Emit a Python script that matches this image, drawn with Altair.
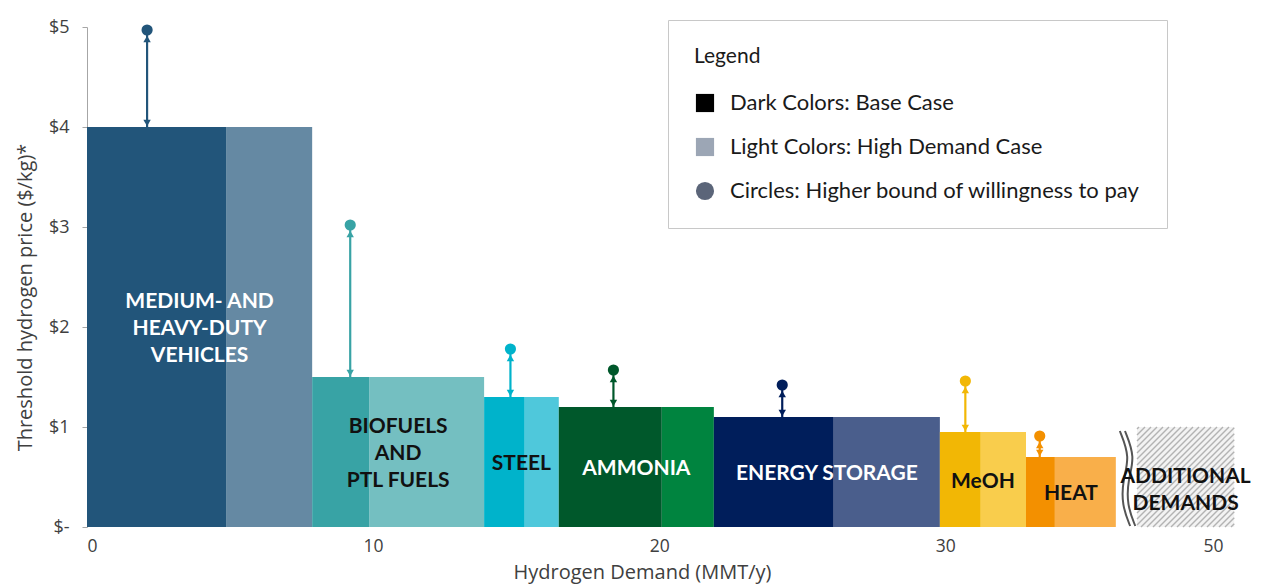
import altair as alt
import pandas as pd

# ---------------- data ----------------
sectors = ["Medium- and heavy-duty vehicles", "Biofuels and PTL fuels", "Steel",
           "Ammonia", "Energy storage", "MeOH", "Heat"]
bar_labels = ["MEDIUM- AND\nHEAVY-DUTY\nVEHICLES", "BIOFUELS\nAND\nPTL FUELS", "STEEL",
              "AMMONIA", "ENERGY STORAGE", "MeOH", "HEAT"]
label_colors = ["#ffffff", "#111111", "#111111", "#ffffff", "#ffffff", "#111111", "#111111"]
base_demand = [4.86, 1.99, 1.42, 3.60, 4.19, 1.43, 1.01]      # MMT/y, base case
high_extra = [3.01, 4.02, 1.19, 1.82, 3.71, 1.58, 2.13]       # MMT/y, extra in high demand case
threshold_price = [4.0, 1.5, 1.3, 1.2, 1.1, 0.95, 0.7]        # $/kg
upper_price = [4.97, 3.02, 1.78, 1.57, 1.42, 1.46, 0.91]      # $/kg, higher bound
upper_x = [2.1, 9.2, 14.8, 18.4, 24.3, 30.7, 33.3]            # MMT/y position of the bound marker
dark_colors = ["#22557A", "#38A3A5", "#00B3CB", "#00582B", "#001E5B", "#F2B705", "#F39000"]
light_colors = ["#6589A3", "#74BFC1", "#4FC8DB", "#00843F", "#4A5E8C", "#F9CD4C", "#F9AF4A"]

additional_label = "ADDITIONAL\nDEMANDS"
additional_start = 36.7
additional_end = 40.1
additional_price = 1.0

break_x = 36.1
break_wave_y = [0.96, 0.70, 0.47, 0.22, 0.01]
break_wave_dx = [0.0, 0.36, 0.10, 0.07, 0.36]
break_gap = 0.18

x_tick_values = [0, 10, 20, 30, 39.36]
x_tick_labels = ["0", "10", "20", "30", "50"]
y_tick_values = [0, 1, 2, 3, 4, 5]
y_tick_labels = ["$-", "$1", "$2", "$3", "$4", "$5"]

legend_labels = ["Dark Colors: Base Case", "Light Colors: High Demand Case",
                 "Circles: Higher bound of willingness to pay"]
legend_colors = ["#000000", "#9CA6B5", "#5B6579"]
legend_shapes = ["square", "square", "circle"]

# ---------------- layout ----------------
X_MAX = 40.3
Y_MAX = 5.0
W = 1153
H = 500
KX = W / X_MAX
KY = H / Y_MAX
FONT = "Lato"
AXFONT = "Open Sans"
LINE_H = 27
XTITLE = "Hydrogen Demand (MMT/y)"
YTITLE = "Threshold hydrogen price ($/kg)*"

# ---------------- tables ----------------
rows, labels, arrows = [], [], []
cum = 0.0
for i, s in enumerate(sectors):
    d0, d1 = cum, cum + base_demand[i]
    l1 = d1 + high_extra[i]
    rows.append(dict(sector=s, case="Base", x0=d0, x1=d1, y0=0, price=threshold_price[i], color=dark_colors[i]))
    rows.append(dict(sector=s, case="High", x0=d1, x1=l1, y0=0, price=threshold_price[i], color=light_colors[i]))
    labels.append(dict(text=bar_labels[i], xm=(d0 + l1) / 2, price=threshold_price[i], tcolor=label_colors[i]))
    arrows.append(dict(sector=s, ux=upper_x[i], price=threshold_price[i], upper=upper_price[i], color=dark_colors[i]))
    cum = l1
labels.append(dict(text=additional_label, xm=(additional_start + additional_end) / 2,
                   price=additional_price * 0.78, tcolor="#111111"))
lab = pd.DataFrame(labels)
# centre a multi-line label block vertically on half the bar height
lab["ym"] = lab["price"] / 2 + (lab["text"].str.count("\n") * LINE_H / 2) / KY
bars = pd.DataFrame(rows)
arr = pd.DataFrame(arrows)
add = pd.DataFrame([dict(x0=additional_start, x1=additional_end, y0=0, price=additional_price)])

wave = []
for k, off in enumerate([0.0, break_gap]):
    for j, (yy, dx) in enumerate(zip(break_wave_y, break_wave_dx)):
        wave.append(dict(line=k, order=j, wx=break_x + dx + off, wy=yy))
wave = pd.DataFrame(wave)

leg = pd.DataFrame(dict(entry=legend_labels))

x_label_expr = " : ".join(
    [f"abs(datum.value - {v}) < 0.01 ? '{t}'" for v, t in zip(x_tick_values, x_tick_labels)] + ["''"])
y_label_expr = " : ".join(
    [f"datum.value == {v} ? '{t}'" for v, t in zip(y_tick_values, y_tick_labels)] + ["''"])

xscale = alt.Scale(domain=[0, X_MAX], nice=False, zero=False)
yscale = alt.Scale(domain=[0, Y_MAX], nice=False)
xaxis = alt.Axis(values=x_tick_values, labelExpr=x_label_expr, ticks=False, domain=False, grid=False,
                 labelFont=AXFONT, labelFontSize=17.5, labelColor="#404040", labelPadding=10,
                 titleFont=AXFONT, titleFontSize=20, titleFontWeight="normal", titleColor="#404040",
                 titleX=555, titleY=45, titleBaseline="middle", titleAnchor="middle")
yaxis = alt.Axis(values=y_tick_values, labelExpr=y_label_expr, grid=False, domainColor="#a6a6a6",
                 tickColor="#a6a6a6", tickSize=5, labelFont=AXFONT, labelFontSize=18, labelColor="#404040",
                 labelPadding=13, titleFont=AXFONT, titleFontSize=20, titleFontWeight="normal",
                 titleColor="#404040", titleX=-62, titleY=270, titleBaseline="middle", titleAngle=-90)


def X(f):
    return alt.X(f, type="quantitative", scale=xscale, axis=xaxis, title=XTITLE)


def Y(f):
    return alt.Y(f, type="quantitative", scale=yscale, axis=yaxis, title=YTITLE)


bar_layer = alt.Chart(bars).mark_rect().encode(
    x=X("x0"), x2="x1", y=Y("y0"), y2="price", fill=alt.Fill("color:N", scale=None))

add_layer = alt.Chart(add).mark_rect(fill="#f3f3f3").encode(x=X("x0"), x2="x1", y=Y("y0"), y2="price")

Wp = (additional_end - additional_start) * KX
Hp = additional_price * KY
hatch = alt.Chart(alt.sequence(-Hp + 2, Wp - 1, 6, as_="c")).transform_calculate(
    px0=f"max(datum.c, 0)", px1=f"min({Wp}, datum.c + {Hp})"
).transform_calculate(
    hx=f"{additional_start} + datum.px0 / {KX}", hy=f"(datum.px0 - datum.c) / {KY}",
    hx2=f"{additional_start} + datum.px1 / {KX}", hy2=f"(datum.px1 - datum.c) / {KY}"
).mark_rule(stroke="#b3b3b3", strokeWidth=1.4).encode(x=X("hx"), y=Y("hy"), x2="hx2", y2="hy2")

break_layer = alt.Chart(wave).mark_line(stroke="#555555", strokeWidth=2, interpolate="basis").encode(
    x=X("wx"), y=Y("wy"), detail="line:N", order="order:Q")

rule_layer = alt.Chart(arr).mark_rule(strokeWidth=2.2).encode(
    x=X("ux"), y=Y("price"), y2="upper", stroke=alt.Stroke("color:N", scale=None))
down_tri = alt.Chart(arr).mark_point(shape="triangle-down", filled=True, size=55, opacity=1, yOffset=-4).encode(
    x=X("ux"), y=Y("price"), fill=alt.Fill("color:N", scale=None))
up_tri = alt.Chart(arr).mark_point(shape="triangle-up", filled=True, size=55, opacity=1, yOffset=9).encode(
    x=X("ux"), y=Y("upper"), fill=alt.Fill("color:N", scale=None))
circles = alt.Chart(arr).mark_point(shape="circle", filled=True, size=125, opacity=1).encode(
    x=X("ux"), y=Y("upper"), fill=alt.Fill("color:N", scale=None))

text_layer = alt.Chart(lab).mark_text(font=FONT, fontWeight="bold", fontSize=21, lineBreak="\n",
                                      lineHeight=LINE_H, align="center", baseline="middle", dy=2).encode(
    x=X("xm"), y=Y("ym"), text="text:N", fill=alt.Fill("tcolor:N", scale=None))

legend_cfg = alt.Legend(title="Legend", orient="none", legendX=581, legendY=-7, symbolOpacity=1,
                        symbolSize=330, symbolStrokeWidth=0, labelFont=FONT, labelFontSize=22,
                        labelColor="#1a1a1a", titleFont=FONT, titleFontSize=21, titleFontWeight="normal",
                        titleColor="#1a1a1a", titlePadding=25, rowPadding=22, labelOffset=14,
                        strokeColor="#c8c8c8", fillColor="#ffffff", padding=26, labelLimit=600)
legend_layer = alt.Chart(leg).mark_point(filled=True, opacity=0).encode(
    color=alt.Color("entry:N", scale=alt.Scale(domain=legend_labels, range=legend_colors), legend=legend_cfg),
    shape=alt.Shape("entry:N", scale=alt.Scale(domain=legend_labels, range=legend_shapes), legend=legend_cfg))

chart = alt.layer(add_layer, hatch, bar_layer, break_layer, rule_layer, down_tri, up_tri, circles,
                  text_layer, legend_layer).properties(
    width=W, height=H, autosize=alt.AutoSizeParams(type="none"),
    padding={"left": 79, "top": 19, "right": 15, "bottom": 57}, background="white"
).configure_view(stroke=None)

chart.save("out.html", embed_options={"renderer": "svg", "actions": False})
